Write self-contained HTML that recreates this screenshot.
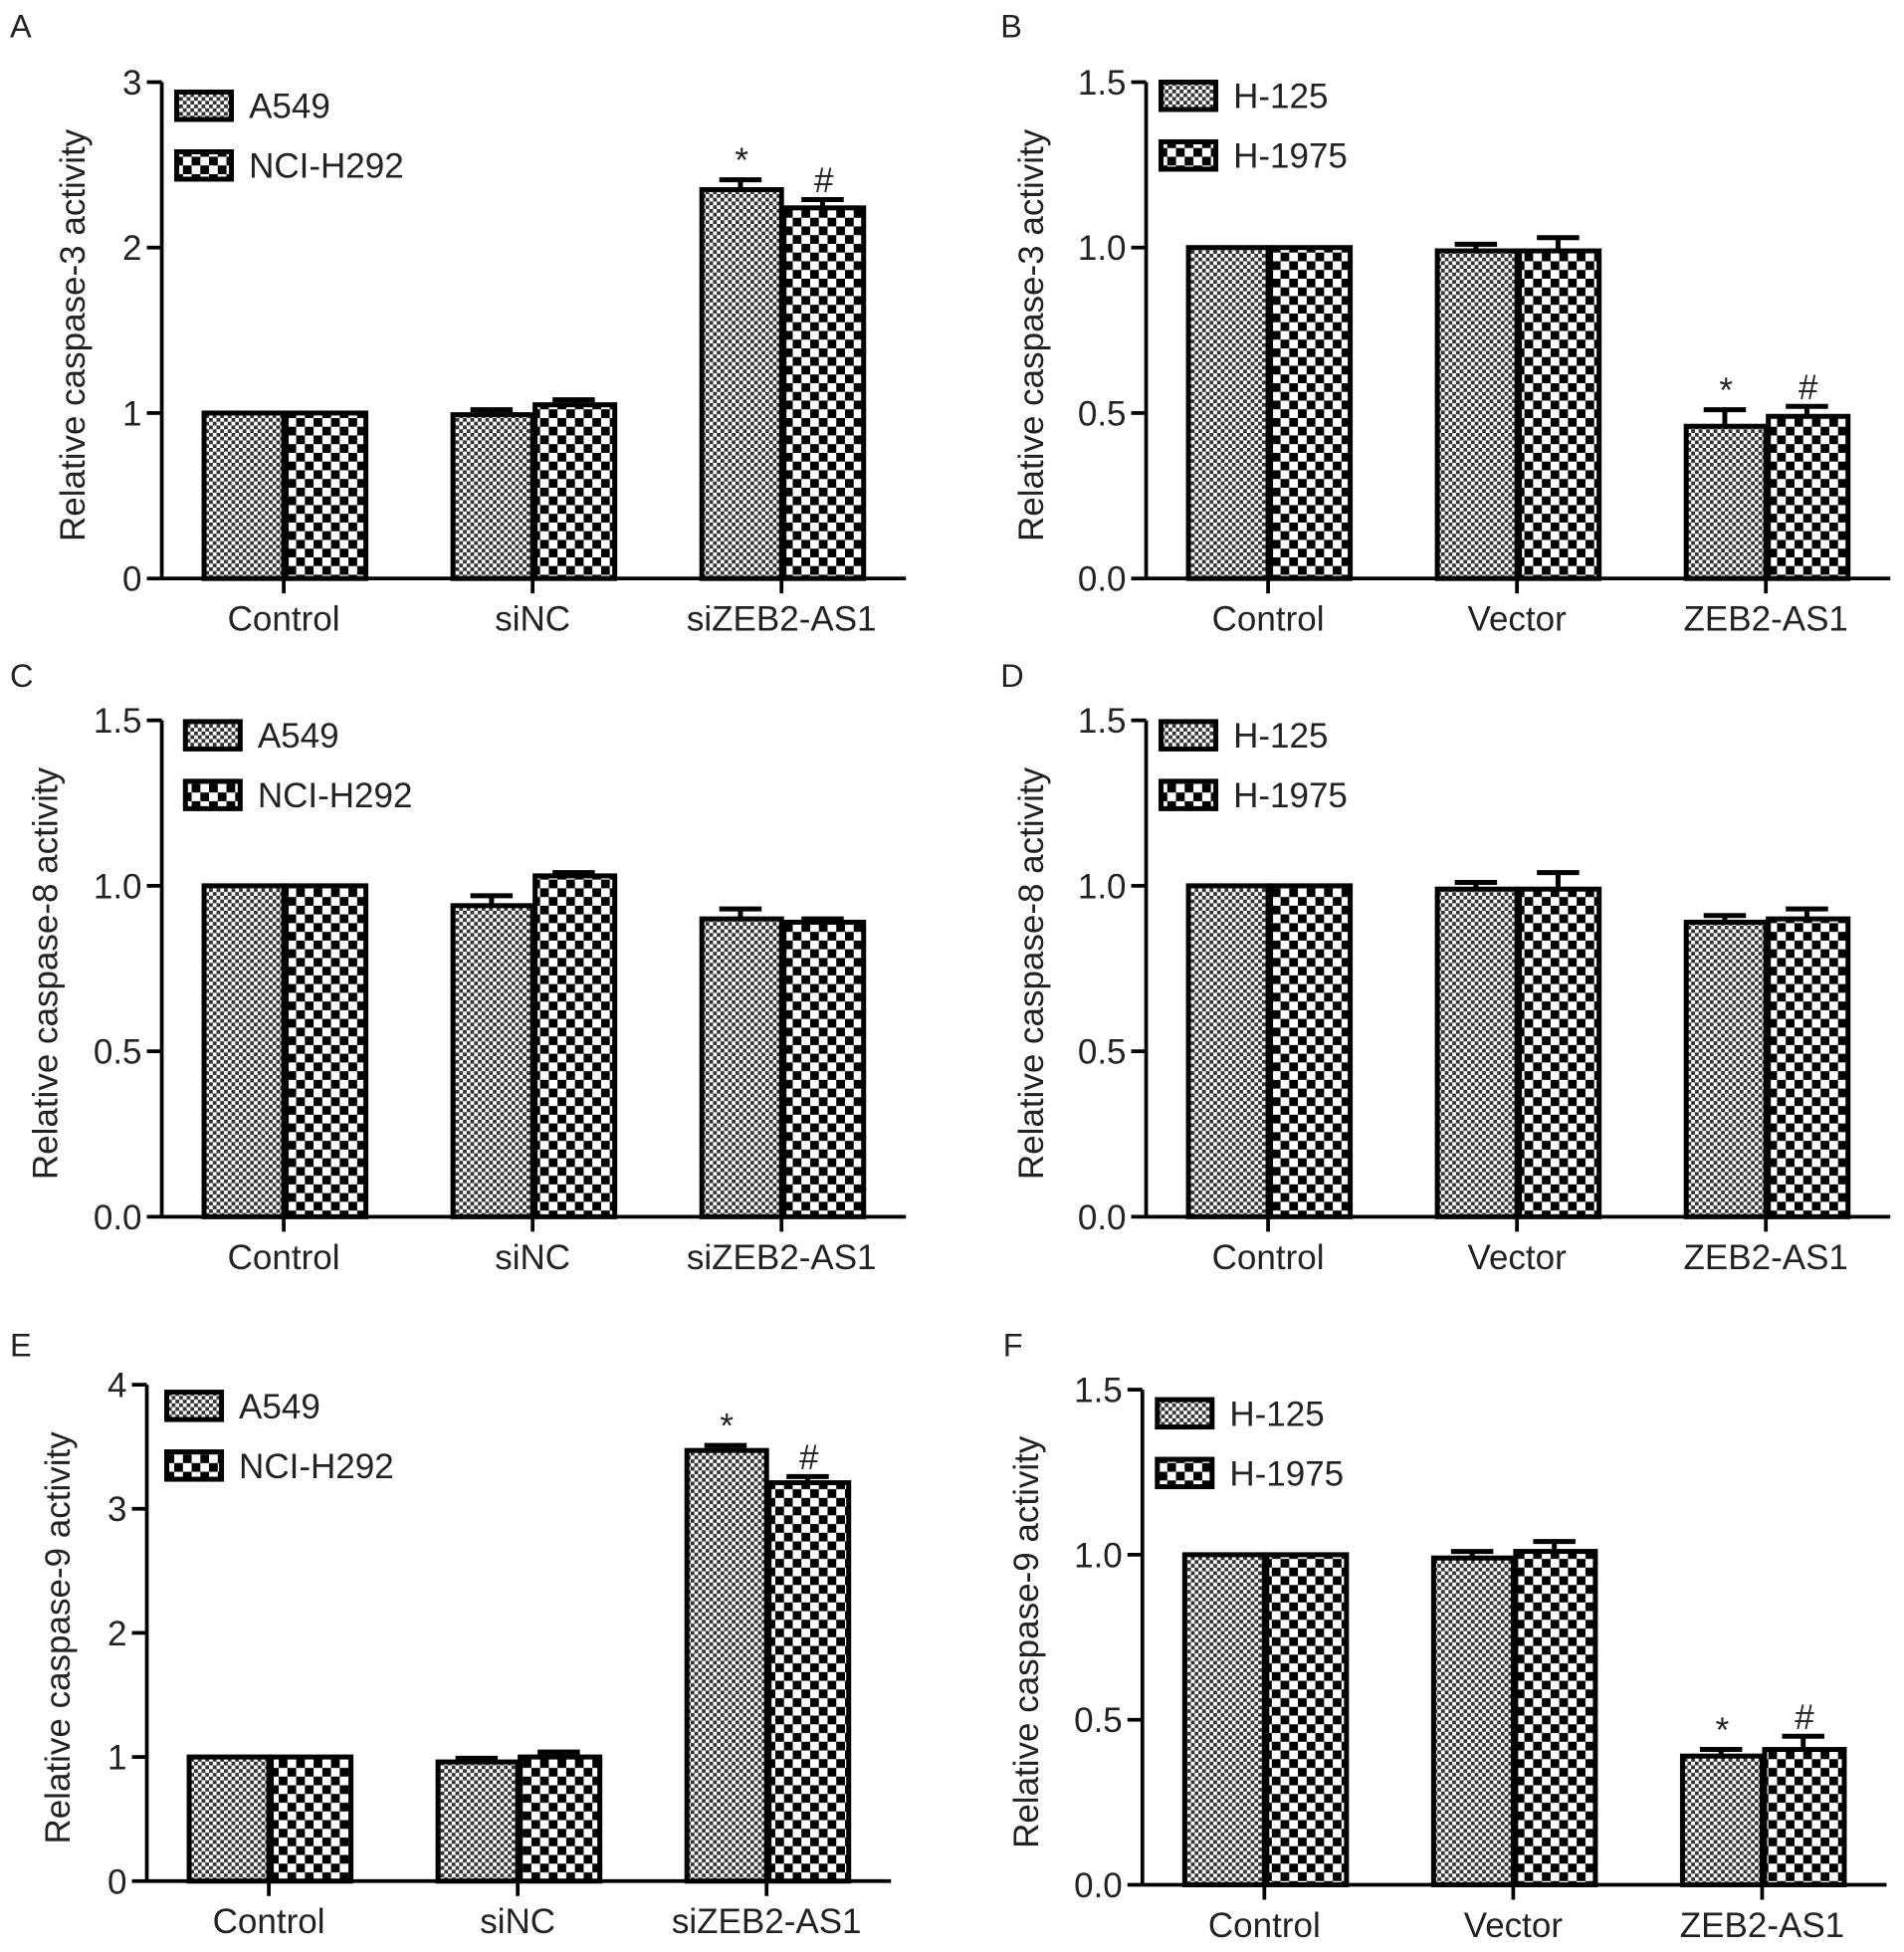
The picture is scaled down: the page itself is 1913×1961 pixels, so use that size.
<!DOCTYPE html>
<html><head><meta charset="utf-8"><style>
html,body{margin:0;padding:0;background:#fff}
svg{display:block}
text{font-family:"Liberation Sans",sans-serif;fill:#222}
</style></head><body>
<svg id="fig" width="1913" height="1961" viewBox="0 0 1530 1569" preserveAspectRatio="none">
<defs>
<pattern id="fine" width="6" height="6" patternUnits="userSpaceOnUse"><rect width="6" height="6" fill="#fff"/><rect width="3" height="3" fill="#333"/><rect x="3" y="3" width="3" height="3" fill="#333"/></pattern>
<pattern id="coarse" width="14" height="14" patternUnits="userSpaceOnUse"><rect width="14" height="14" fill="#fff"/><rect width="7" height="7" fill="#000"/><rect x="7" y="7" width="7" height="7" fill="#000"/></pattern>
</defs>
</svg>
<script>
const categoriesA = ["Control","siNC","siZEB2-AS1"];
const categoriesB = ["Control","Vector","ZEB2-AS1"];
const seriesA1 = ["A549","NCI-H292"];
const seriesB1 = ["H-125","H-1975"];
const valsA_1 = [1, 0.99, 2.35], valsA_2 = [1, 1.05, 2.24];
const errA_1 = [0, 0.03, 0.06], errA_2 = [0, 0.03, 0.05];
const valsB_1 = [1, 0.99, 0.46], valsB_2 = [1, 0.99, 0.49];
const errB_1 = [0, 0.02, 0.05], errB_2 = [0, 0.04, 0.03];
const valsC_1 = [1, 0.94, 0.90], valsC_2 = [1, 1.03, 0.89];
const errC_1 = [0, 0.03, 0.03], errC_2 = [0, 0.01, 0.01];
const valsD_1 = [1, 0.99, 0.89], valsD_2 = [1, 0.99, 0.90];
const errD_1 = [0, 0.02, 0.02], errD_2 = [0, 0.05, 0.03];
const valsE_1 = [1, 0.96, 3.47], valsE_2 = [1, 1.0, 3.21];
const errE_1 = [0, 0.03, 0.04], errE_2 = [0, 0.04, 0.05];
const valsF_1 = [1, 0.99, 0.39], valsF_2 = [1, 1.01, 0.41];
const errF_1 = [0, 0.02, 0.02], errF_2 = [0, 0.03, 0.04];
const ticksInt3 = ["0","1","2","3"];
const ticksInt4 = ["0","1","2","3","4"];
const ticksDec = ["0.0","0.5","1.0","1.5"];
const marksA = ["*","#"];

const svg = document.getElementById('fig');
const NS = "http://www.w3.org/2000/svg";
function el(tag, attrs, parent){const e=document.createElementNS(NS,tag);for(const k in attrs)e.setAttribute(k,attrs[k]);(parent||svg).appendChild(e);return e;}

function panel(p){
  const g = el('g',{});
  
  
  const t0 = el('text',{x:p.lx,y:p.ly,'font-size':26},g); t0.textContent=p.letter;
  
  
  const ymax = p.ticks.length-1; const step = p.step;
  const yS = v => p.y0 - (v/(ymax*step))*(p.y0-p.ytop);
  const xend = p.ax + 598;
  const ya = el('line',{x1:p.ax,y1:p.ytop,x2:p.ax,y2:p.y0,stroke:'#000','stroke-width':3},g);
  
  
  const xa = el('line',{x1:p.ax,y1:p.y0,x2:xend,y2:p.y0,stroke:'#000','stroke-width':3},g);
  
  
  p.ticks.forEach((lab,i)=>{
    const y = yS(i*step);
    el('line',{x1:p.ax-12,y1:y,x2:p.ax,y2:y,stroke:'#000','stroke-width':3},g);
    const t = el('text',{x:p.ax-16,y:y+10,'font-size':28,'text-anchor':'end'},g); t.textContent=lab;
    
    
  });
  const yt = el('text',{x:0,y:0,'font-size':28,'text-anchor':'middle',transform:`translate(${p.ytx},${(p.ytop+p.y0)/2+4}) rotate(-90)`},g);
  yt.textContent = p.ytitle;
  
  
  p.cats.forEach((c,i)=>{
    const cx = p.cx0 + i*200;
    el('line',{x1:cx,y1:p.y0,x2:cx,y2:p.y0+12,stroke:'#000','stroke-width':3},g);
    const t = el('text',{x:cx,y:p.y0+42,'font-size':28,'text-anchor':'middle'},g); t.textContent=c;
    
    
    [[p.v1,p.e1,'url(#fine)'],[p.v2,p.e2,'url(#coarse)']].forEach((s,k)=>{
      const v=s[0][i], e=s[1][i];
      const x = cx + (k===0?-66:0);
      const y = yS(v);
      if(e>0){
        const ye=yS(v+e);
        el('line',{x1:x+33,y1:y,x2:x+33,y2:ye,stroke:'#000','stroke-width':4},g);
        el('line',{x1:x+16,y1:ye,x2:x+50,y2:ye,stroke:'#000','stroke-width':4},g);
      }
      const r = el('rect',{x:x+2,y:y,width:64,height:p.y0-y,fill:s[2],stroke:'#000','stroke-width':4},g);
      
      
      if(p.sig && i===2){
        const m = el('text',{x:x+34,y:yS(v+e)-6,'font-size':28,'text-anchor':'middle'},g); m.textContent=marksA[k];
        
        
      }
    });
  });
  p.series.forEach((s,k)=>{
    const ly = p.legy + k*48;
    const b = el('rect',{x:p.legx,y:ly,width:44,height:22,fill:k?'url(#coarse)':'url(#fine)',stroke:'#000','stroke-width':4},g);
    
    
    const t = el('text',{x:p.legx+58,y:ly+21,'font-size':28},g); t.textContent=s;
    
    
  });
}
panel({letter:'A',lx:8,ly:30,ax:130,ytop:66,y0:465,ticks:ticksInt3,step:1,ytx:68,ytitle:'Relative caspase-3 activity',cats:categoriesA,cx0:228,v1:valsA_1,v2:valsA_2,e1:errA_1,e2:errA_2,series:seriesA1,legx:142,legy:74,sig:true});
panel({letter:'B',lx:804,ly:30,ax:921,ytop:66,y0:465,ticks:ticksDec,step:0.5,ytx:838,ytitle:'Relative caspase-3 activity',cats:categoriesB,cx0:1019,v1:valsB_1,v2:valsB_2,e1:errB_1,e2:errB_2,series:seriesB1,legx:933,legy:66,sig:true});
panel({letter:'C',lx:8,ly:552,ax:130,ytop:579,y0:978,ticks:ticksDec,step:0.5,ytx:46,ytitle:'Relative caspase-8 activity',cats:categoriesA,cx0:228,v1:valsC_1,v2:valsC_2,e1:errC_1,e2:errC_2,series:seriesA1,legx:149,legy:580,sig:false});
panel({letter:'D',lx:804,ly:552,ax:921,ytop:579,y0:978,ticks:ticksDec,step:0.5,ytx:838,ytitle:'Relative caspase-8 activity',cats:categoriesB,cx0:1019,v1:valsD_1,v2:valsD_2,e1:errD_1,e2:errD_2,series:seriesB1,legx:933,legy:580,sig:false});
panel({letter:'E',lx:8,ly:1090,ax:118,ytop:1113,y0:1512,ticks:ticksInt4,step:1,ytx:56,ytitle:'Relative caspase-9 activity',cats:categoriesA,cx0:216,v1:valsE_1,v2:valsE_2,e1:errE_1,e2:errE_2,series:seriesA1,legx:134,legy:1119,sig:true});
panel({letter:'F',lx:806,ly:1090,ax:918,ytop:1117,y0:1515,ticks:ticksDec,step:0.5,ytx:834,ytitle:'Relative caspase-9 activity',cats:categoriesB,cx0:1016,v1:valsF_1,v2:valsF_2,e1:errF_1,e2:errF_2,series:seriesB1,legx:930,legy:1125,sig:true});
</script>
</body></html>
